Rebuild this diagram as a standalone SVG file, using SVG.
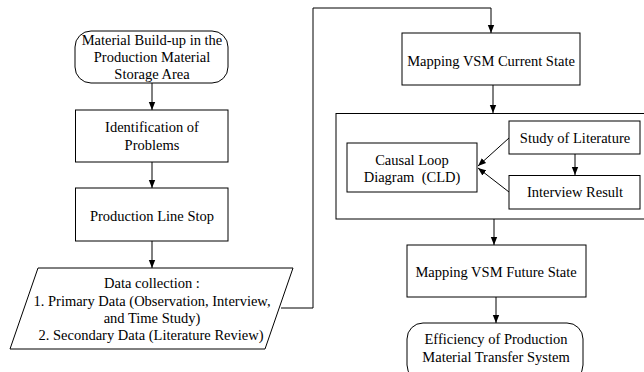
<svg xmlns="http://www.w3.org/2000/svg" width="644" height="372" viewBox="0 0 644 372">
  <defs>
    <marker id="arrow" viewBox="0 0 10 10" refX="10" refY="5" markerWidth="8" markerHeight="8" markerUnits="userSpaceOnUse" orient="auto">
      <path d="M0,1 L10,5 L0,9 z" fill="#000"/>
    </marker>
    <style>
      .box { fill: #fff; stroke: #000; stroke-width: 1; }
      .frame { fill: none; stroke: #000; stroke-width: 1; }
      .line { fill: none; stroke: #000; stroke-width: 1; marker-end: url(#arrow); }
      text { font-size: 14.5px; fill: #000; text-anchor: middle; }
    </style>
  </defs>
  <rect width="644" height="372" fill="#fff"/>

  <g font-family="'Liberation Serif', 'Times New Roman', Times, serif">

  <!-- grouping frame around the causal loop analysis -->
  <g id="cld-frame">
    <rect class="frame" x="336" y="113.5" width="320" height="105.5"/>
  </g>

  <g id="connectors">
    <path class="line" d="M152,83 V110"/>
    <path class="line" d="M152,162 V188"/>
    <path class="line" d="M152,241 V268"/>
    <path class="line" d="M281,308 H313 V8 H491 V33"/>
    <path class="line" d="M493,85 V113"/>
    <path class="line" d="M575,154 V175"/>
    <path class="line" d="M509,138 L478,166"/>
    <path class="line" d="M509,192 L478,168"/>
    <path class="line" d="M494,219 V245"/>
    <path class="line" d="M496,297 V323"/>
  </g>

  <g id="material-buildup">
    <rect class="box" x="75" y="31" width="153" height="52" rx="16" ry="16"/>
    <text x="152" y="45">Material Build-up in the</text>
    <text x="152" y="62">Production Material</text>
    <text x="152" y="79">Storage Area</text>
  </g>

  <g id="identification">
    <rect class="box" x="75.5" y="110" width="152.5" height="52"/>
    <text x="152" y="132">Identification of</text>
    <text x="152" y="150">Problems</text>
  </g>

  <g id="line-stop">
    <rect class="box" x="75.5" y="188" width="152.5" height="53"/>
    <text x="152" y="221">Production Line Stop</text>
  </g>

  <g id="data-collection">
    <polygon class="box" points="38,268 293,268 265,349 10,349"/>
    <text x="152" y="288">Data collection :</text>
    <text x="152" y="306">1. Primary Data (Observation, Interview,</text>
    <text x="152" y="323">and Time Study)</text>
    <text x="151" y="340">2. Secondary Data (Literature Review)</text>
  </g>

  <g id="vsm-current">
    <rect class="box" x="402" y="33" width="178" height="52"/>
    <text x="491" y="66">Mapping VSM Current State</text>
  </g>

  <g id="cld">
    <rect class="box" x="347" y="143" width="130" height="49"/>
    <text x="412" y="165">Causal Loop</text>
    <text x="412" y="182" xml:space="preserve">Diagram  (CLD)</text>
  </g>

  <g id="literature">
    <rect class="box" x="509" y="121" width="131" height="33"/>
    <text x="575" y="143">Study of Literature</text>
  </g>

  <g id="interview">
    <rect class="box" x="509" y="175.5" width="131" height="33.5"/>
    <text x="575" y="197">Interview Result</text>
  </g>

  <g id="vsm-future">
    <rect class="box" x="407" y="245" width="179" height="52"/>
    <text x="496" y="277">Mapping VSM Future State</text>
  </g>

  <g id="efficiency">
    <rect class="box" x="407" y="323" width="176" height="58" rx="16" ry="16"/>
    <text x="496" y="344">Efficiency of Production</text>
    <text x="496" y="362">Material Transfer System</text>
  </g>

  </g>
</svg>
